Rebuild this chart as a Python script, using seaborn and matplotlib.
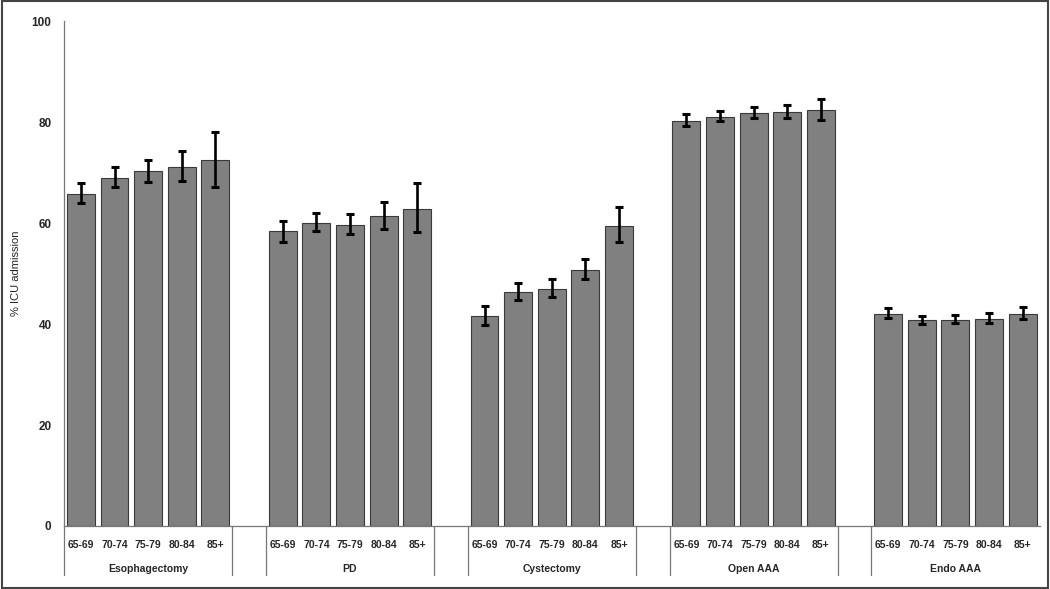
import matplotlib
matplotlib.use("Agg")
import matplotlib.pyplot as plt
import numpy as np
import pandas as pd
import seaborn as sns
from matplotlib.patches import Rectangle

# values
ages = ["65-69", "70-74", "75-79", "80-84", "85+"]
procedures = ["Esophagectomy", "PD", "Cystectomy", "Open AAA", "Endo AAA"]

icu_pct = {
    "Esophagectomy": [65.7, 69.0, 70.4, 71.1, 72.5],
    "PD": [58.4, 60.0, 59.7, 61.4, 62.8],
    "Cystectomy": [41.6, 46.4, 47.0, 50.7, 59.5],
    "Open AAA": [80.3, 81.1, 81.9, 82.0, 82.4],
    "Endo AAA": [42.0, 40.8, 40.9, 41.0, 42.0],
}
ci_low = {
    "Esophagectomy": [63.9, 67.2, 68.2, 68.3, 67.2],
    "PD": [56.2, 58.4, 57.8, 58.9, 58.2],
    "Cystectomy": [39.9, 44.8, 45.4, 48.9, 56.3],
    "Open AAA": [79.2, 80.2, 80.9, 80.9, 80.4],
    "Endo AAA": [41.2, 40.1, 40.2, 40.3, 41.0],
}
ci_high = {
    "Esophagectomy": [68.0, 71.1, 72.6, 74.3, 78.1],
    "PD": [60.5, 62.0, 61.9, 64.1, 67.9],
    "Cystectomy": [43.6, 48.1, 48.9, 52.9, 63.2],
    "Open AAA": [81.7, 82.2, 83.0, 83.4, 84.5],
    "Endo AAA": [43.2, 41.6, 41.8, 42.1, 43.4],
}

# build long table with a blank slot between procedure groups
rows = []
order = []
for gi, proc in enumerate(procedures):
    for ai, age in enumerate(ages):
        key = f"{proc}|{age}"
        order.append(key)
        rows.append({"slot": key, "pct": icu_pct[proc][ai],
                     "lo": ci_low[proc][ai], "hi": ci_high[proc][ai]})
    if gi < len(procedures) - 1:
        order.append(f"gap{gi}")
df = pd.DataFrame(rows)

sns.set_style("white")
plt.rcParams["font.family"] = ["Liberation Sans", "DejaVu Sans"]

fig = plt.figure(figsize=(10.5, 5.89), dpi=100)
ax = fig.add_axes([0.061, 0.107, 0.929, 0.857])

sns.barplot(data=df, x="slot", y="pct", order=order, color="#808080",
            saturation=1, width=0.83, edgecolor="#3a3a3a", linewidth=0.8,
            errorbar=None, ax=ax)

pos = [order.index(s) for s in df["slot"]]
yerr = np.vstack([df["pct"] - df["lo"], df["hi"] - df["pct"]])
ax.errorbar(pos, df["pct"], yerr=yerr, fmt="none", ecolor="black",
            elinewidth=1.9, capsize=3.2, capthick=2.2, zorder=5)

ax.set_xlim(-0.5, len(order) - 0.5)
ax.set_ylim(0, 100)
ax.set_yticks([0, 20, 40, 60, 80, 100])
ax.tick_params(axis="y", direction="out", length=4, width=0.8, color="#555555",
               labelsize=8.5, pad=5)
for lbl in ax.get_yticklabels():
    lbl.set_fontweight("bold")
ax.set_xticks([])
ax.set_xlabel("")
ax.set_ylabel("% ICU admission", fontsize=8, labelpad=8)

sns.despine(ax=ax, top=True, right=True)
for side in ["left", "bottom"]:
    ax.spines[side].set_color("#777777")
    ax.spines[side].set_linewidth(0.9)

# two-level category axis
trans = ax.get_xaxis_transform()
for i, s in enumerate(order):
    if "|" in s:
        ax.text(i, -0.037, s.split("|")[1], transform=trans, ha="center",
                va="center", fontsize=7.5, fontweight="bold")
start = 0
bounds = [-0.5]
for gi, proc in enumerate(procedures):
    left = start - 0.5
    right = start + len(ages) - 0.5
    ax.text((left + right) / 2, -0.085, proc, transform=trans, ha="center",
            va="center", fontsize=7.5, fontweight="bold")
    bounds.append(right)
    if gi < len(procedures) - 1:
        bounds.append(right + 1)
    start += len(ages) + 1
for b in bounds[:-1]:
    ax.plot([b, b], [0, -0.097], transform=trans, color="#777777",
            lw=0.9, clip_on=False)

# outer frame of the figure
fig.patches.append(Rectangle((0.002, 0.002), 0.996, 0.996, transform=fig.transFigure,
                             fill=False, edgecolor="#444444", linewidth=1.5))

fig.savefig("out.png", dpi=100)
